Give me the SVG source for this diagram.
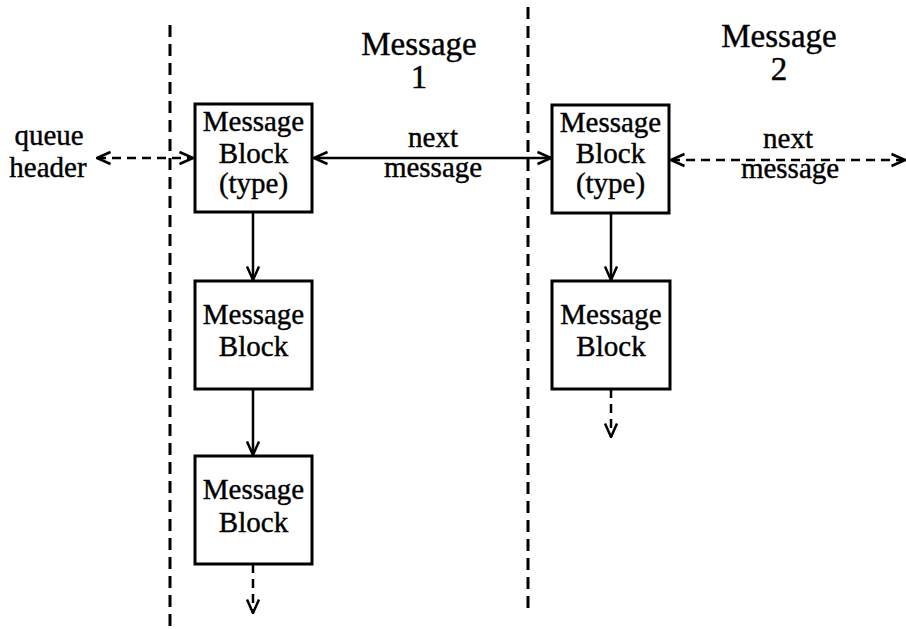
<svg xmlns="http://www.w3.org/2000/svg" width="906" height="629" viewBox="0 0 906 629">
<defs>
<style>
text{font-family:"Liberation Serif","Times New Roman",serif;fill:#000;stroke:#000;stroke-width:0.4;text-anchor:middle}
.t{font-size:29px}
.h{font-size:33px}
.box{fill:#fff;stroke:#000;stroke-width:3}
.sep{stroke:#000;stroke-width:3;stroke-dasharray:12 7;fill:none}
.ln{stroke:#000;stroke-width:2.5;fill:none}
.dl{stroke:#000;stroke-width:2.5;fill:none;stroke-dasharray:9 6}
</style>
<marker id="ah" viewBox="0 0 16 16" refX="15" refY="8" markerWidth="16" markerHeight="16" markerUnits="userSpaceOnUse" orient="auto-start-reverse">
<path d="M1.5,2 L15,8 L1.5,14" fill="none" stroke="#000" stroke-width="2.5"/>
</marker>
</defs>
<rect width="906" height="629" fill="#fff"/>
<g id="separators">
<line class="sep" x1="170" y1="25" x2="170" y2="629"/>
<line class="sep" x1="528" y1="7" x2="528" y2="610"/>
</g>
<g id="titles">
<text class="h" x="419" y="55">Message</text>
<text class="h" x="419" y="88">1</text>
<text class="h" x="779" y="47">Message</text>
<text class="h" x="779" y="80">2</text>
</g>
<g id="connectors">
<line class="dl" x1="97" y1="158" x2="193" y2="158" marker-start="url(#ah)" marker-end="url(#ah)"/>
<line class="ln" x1="314" y1="158" x2="551" y2="158" marker-start="url(#ah)" marker-end="url(#ah)"/>
<line class="dl" x1="671" y1="160" x2="905" y2="160" marker-start="url(#ah)" marker-end="url(#ah)"/>
<line class="ln" x1="253" y1="212" x2="253" y2="280" marker-end="url(#ah)"/>
<line class="ln" x1="253" y1="389" x2="253" y2="455" marker-end="url(#ah)"/>
<line class="dl" x1="253" y1="564" x2="253" y2="613" marker-end="url(#ah)"/>
<line class="ln" x1="611" y1="213" x2="611" y2="280" marker-end="url(#ah)"/>
<line class="dl" x1="611" y1="389" x2="611" y2="437" marker-end="url(#ah)"/>
</g>
<g id="labels">
<text class="t" x="49" y="145">queue</text>
<text class="t" x="48" y="177">header</text>
<text class="t" x="433" y="147">next</text>
<text class="t" x="433" y="177">message</text>
<text class="t" x="788" y="148">next</text>
<text class="t" x="790" y="178">message</text>
</g>
<g id="mb1">
<rect class="box" x="195" y="104" width="117" height="108"/>
<text class="t" x="253.5" y="131">Message</text>
<text class="t" x="253.5" y="163">Block</text>
<text class="t" x="253.5" y="193">(type)</text>
</g>
<g id="mb2">
<rect class="box" x="195" y="281" width="117" height="108"/>
<text class="t" x="253.5" y="324">Message</text>
<text class="t" x="253.5" y="356">Block</text>
</g>
<g id="mb3">
<rect class="box" x="195" y="456" width="117" height="108"/>
<text class="t" x="253.5" y="499">Message</text>
<text class="t" x="253.5" y="532">Block</text>
</g>
<g id="mb4">
<rect class="box" x="552" y="105" width="117" height="108"/>
<text class="t" x="610.5" y="132">Message</text>
<text class="t" x="610.5" y="163">Block</text>
<text class="t" x="610.5" y="193">(type)</text>
</g>
<g id="mb5">
<rect class="box" x="552" y="281" width="118" height="108"/>
<text class="t" x="611" y="324">Message</text>
<text class="t" x="611" y="356">Block</text>
</g>
</svg>
